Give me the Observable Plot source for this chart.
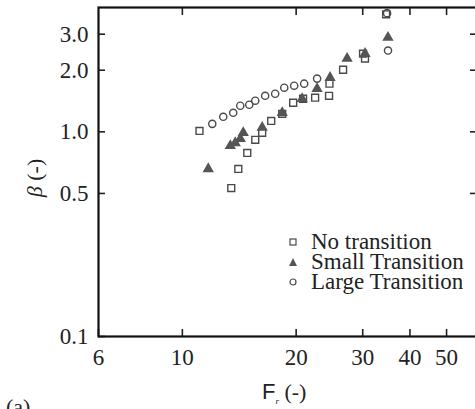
<!DOCTYPE html>
<html>
<head>
<meta charset="utf-8">
<script src="https://cdn.jsdelivr.net/npm/d3@7"></script>
<script src="https://cdn.jsdelivr.net/npm/@observablehq/plot@0.6"></script>
<style>
  html, body { margin: 0; padding: 0; background: #fff; overflow: hidden; }
  #wrap { position: relative; width: 475px; height: 409px; overflow: hidden; }
  #chart svg { max-width: none !important; }
  .ser { font-family: "Liberation Serif", "Times New Roman", serif; color: #222; }
  #legend { position: absolute; left: 286px; top: 232px; font-size: 23px; line-height: 20px; }
  #legend div { display: flex; align-items: center; height: 20px; }
  #legend span { display: block; line-height: 20px; height: 20px; }
  #legend svg { width: 14px; height: 14px; margin-right: 11px; }
  #ylabel { position: absolute; left: 35px; top: 178px; transform: translate(-50%, -50%) rotate(-90deg); font-size: 22px; white-space: nowrap; }
  #xlabel { position: absolute; left: 262px; top: 379px; font-size: 22px; white-space: nowrap; }
  #xlabel .F { font-family: "Liberation Sans", Arial, sans-serif; }
  #alab { position: absolute; left: 6px; top: 394px; font-size: 22px; }
</style>
</head>
<body>
<div id="wrap">
  <div id="chart"></div>
  <div id="legend" class="ser"></div>
  <div id="ylabel" class="ser"><i>β</i> (-)</div>
  <div id="xlabel" class="ser"><span class="F">F</span><sub style="font-size:9px;font-style:italic">r</sub> (-)</div>
  <div id="alab" class="ser">(a)</div>
</div>
<script>
// ---- data ----
const noTransF = [11.1, 13.47, 14.06, 14.85, 15.59, 16.26, 17.18, 18.37, 19.64, 20.86, 22.45, 24.44, 24.5, 26.62, 30.06, 30.42, 34.6];
const noTransB = [1.01, 0.531, 0.659, 0.789, 0.914, 0.99, 1.13, 1.225, 1.387, 1.451, 1.468, 1.50, 1.72, 2.01, 2.41, 2.28, 3.75];

const smallF = [11.71, 13.39, 13.80, 14.23, 14.49, 16.26, 18.37, 20.74, 22.72, 24.59, 27.28, 30.42, 34.99];
const smallB = [0.659, 0.854, 0.883, 0.924, 0.99, 1.05, 1.239, 1.451, 1.625, 1.84, 2.28, 2.41, 2.89];

const largeF = [12.0, 12.83, 13.63, 14.23, 15.03, 15.59, 16.56, 17.6, 18.6, 19.76, 21.0, 22.72, 35.0, 34.8];
const largeB = [1.094, 1.184, 1.239, 1.341, 1.356, 1.419, 1.50, 1.535, 1.643, 1.68, 1.719, 1.82, 2.495, 3.8];

const seriesNames = ["No transition", "Small Transition", "Large Transition"];
const xTicks = [6, 10, 20, 30, 40, 50];
const xTopTicks = [10, 20, 30, 40, 50];
const yTicks = [0.1, 0.5, 1.0, 2.0, 3.0];
const yRightTicks = [0.5, 1.0, 2.0, 3.0];

const toRows = (fs, bs) => fs.map((f, i) => ({f, b: bs[i]}));
const sq = toRows(noTransF, noTransB);
const tri = toRows(smallF, smallB);
const cir = toRows(largeF, largeB);

const ink = "#4a4a4a";
const chart = Plot.plot({
  width: 480,
  height: 409,
  marginLeft: 98,
  marginRight: 4,
  marginTop: 7,
  marginBottom: 73,
  style: {fontFamily: "'Liberation Serif', 'Times New Roman', serif", fontSize: "23px", color: "#222", background: "transparent", overflow: "visible", maxWidth: "none"},
  x: {type: "log", domain: [6, 60]},
  y: {type: "log", domain: [0.1, 4.05]},
  marks: [
    Plot.axisX({ticks: xTicks, anchor: "bottom", tickSize: -7, tickPadding: 19, tickFormat: d => String(d), label: null, strokeWidth: 1.6}),
    Plot.axisX({ticks: xTopTicks, anchor: "top", tickSize: -7, tickFormat: () => "", label: null, strokeWidth: 1.6}),
    Plot.axisY({ticks: yTicks, anchor: "left", tickSize: -7, tickPadding: 17, tickFormat: d3.format(".1f"), label: null, strokeWidth: 1.6}),
    Plot.axisY({ticks: yRightTicks, anchor: "right", tickSize: -7, tickFormat: () => "", label: null, strokeWidth: 1.6}),
    Plot.frame({stroke: "#111", strokeWidth: 2.2}),
    Plot.dot(cir, {x: "f", y: "b", symbol: "circle", r: 3.6, stroke: ink, strokeWidth: 1.4, fill: "none"}),
    Plot.dot(sq, {x: "f", y: "b", symbol: "square", r: 3.9, stroke: ink, strokeWidth: 1.4, fill: "none"}),
    Plot.dot(tri, {x: "f", y: "b", symbol: "triangle", r: 4.2, fill: "#555", stroke: "none"})
  ]
});
document.getElementById("chart").appendChild(chart);

// legend
const leg = document.getElementById("legend");
const syms = [
  `<rect x="4" y="4" width="6" height="6" fill="none" stroke="${ink}" stroke-width="1.2"/>`,
  `<path d="M7,3 L11,11 L3,11 Z" fill="#555"/>`,
  `<circle cx="7" cy="7" r="3" fill="none" stroke="${ink}" stroke-width="1.2"/>`
];
seriesNames.forEach((n, i) => {
  const d = document.createElement("div");
  d.innerHTML = `<svg viewBox="0 0 14 14">${syms[i]}</svg><span>${n}</span>`;
  leg.appendChild(d);
});
</script>
</body>
</html>
